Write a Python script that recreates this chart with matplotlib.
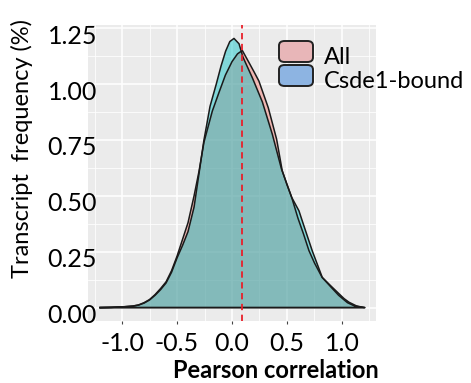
import matplotlib
matplotlib.use("Agg")
import matplotlib.pyplot as plt
from matplotlib.patches import FancyBboxPatch
from matplotlib.transforms import ScaledTranslation

# ---- data ----
all_x = [-1.20, -1.10, -1.00, -0.90, -0.85, -0.80, -0.75, -0.70, -0.65, -0.60, -0.55, -0.50,
         -0.45, -0.40, -0.345, -0.30, -0.255, -0.179, -0.12, -0.06, 0.00, 0.05, 0.094, 0.15,
         0.20, 0.245, 0.29, 0.33, 0.37, 0.406, 0.457, 0.50, 0.543, 0.60, 0.65, 0.70, 0.75,
         0.82, 0.90, 0.97, 1.05, 1.12, 1.21]
all_y = [0.000, 0.001, 0.003, 0.007, 0.012, 0.022, 0.036, 0.058, 0.085, 0.115, 0.165, 0.230,
         0.305, 0.380, 0.500, 0.610, 0.740, 0.879, 0.960, 1.040, 1.100, 1.135, 1.150, 1.100,
         1.055, 1.013, 0.950, 0.894, 0.820, 0.753, 0.612, 0.550, 0.493, 0.400, 0.330, 0.255,
         0.200, 0.135, 0.092, 0.055, 0.022, 0.006, 0.000]

csde_x = [-1.20, -1.10, -1.00, -0.90, -0.85, -0.80, -0.75, -0.70, -0.65, -0.60, -0.55, -0.50,
          -0.45, -0.40, -0.345, -0.30, -0.255, -0.20, -0.143, -0.10, -0.058, -0.02, 0.018,
          0.064, 0.10, 0.185, 0.276, 0.367, 0.45, 0.543, 0.609, 0.639, 0.73, 0.821, 0.897,
          0.973, 1.02, 1.064, 1.13, 1.20]
csde_y = [0.000, 0.001, 0.003, 0.007, 0.011, 0.020, 0.034, 0.055, 0.080, 0.110, 0.158, 0.222,
          0.278, 0.340, 0.450, 0.600, 0.750, 0.900, 1.000, 1.080, 1.147, 1.190, 1.204,
          1.180, 1.120, 1.028, 0.920, 0.775, 0.620, 0.493, 0.433, 0.388, 0.254, 0.135, 0.098,
          0.062, 0.040, 0.024, 0.008, 0.000]

median_line = 0.09
series_labels = ["All", "Csde1-bound"]
xticks = [-1.0, -0.5, 0.0, 0.5, 1.0]
xtick_labels = ["-1.0", "-0.5", "0.0", "0.5", "1.0"]
yticks = [0.00, 0.25, 0.50, 0.75, 1.00, 1.25]
ytick_labels = ["0.00", "0.25", "0.50", "0.75", "1.00", "1.25"]

# ---- style ----
plt.rcParams['font.family'] = ['Lato', 'DejaVu Sans']
W, H = 471, 383
fig = plt.figure(figsize=(W / 100, H / 100), dpi=100)
ax = fig.add_axes([88 / W, (H - 321) / H, (376 - 88) / W, (321 - 25) / H])
ax.set_facecolor('#EBEBEB')
for s in ax.spines.values():
    s.set_visible(False)

ax.set_xlim(-1.31, 1.31)
ax.set_ylim(-0.06, 1.264)

ax.set_xticks(xticks)
ax.set_xticklabels(xtick_labels, fontsize=18)
ax.set_xticks([-1.25, -0.75, -0.25, 0.25, 0.75, 1.25], minor=True)
ax.set_yticks(yticks)
ax.set_yticklabels(ytick_labels, fontsize=18)
ax.set_yticks([0.125, 0.375, 0.625, 0.875, 1.125], minor=True)
ax.grid(True, which='major', color='white', linewidth=1.1)
ax.grid(True, which='minor', color='white', linewidth=0.55)
ax.set_axisbelow(True)
ax.tick_params(axis='x', which='major', length=2.5, width=0.8, color='#444444', pad=5.5)
ax.tick_params(axis='x', which='minor', length=0)
ax.tick_params(axis='y', which='both', length=0, pad=-6.5)
for lab in ax.get_yticklabels():
    lab.set_transform(lab.get_transform() + ScaledTranslation(0, -6 / 100, fig.dpi_scale_trans))

fill_colors = ['#F8766D', '#00BFC4']
for xs, ys, c in [(all_x, all_y, fill_colors[0]), (csde_x, csde_y, fill_colors[1])]:
    ax.fill(xs, ys, facecolor=c, alpha=0.45, edgecolor='none')
    ax.plot(xs + [xs[0]], ys + [ys[0]], color='#1a1a1a', linewidth=1.1,
            solid_joinstyle='round')

ax.axvline(median_line, color='#E8202A', linestyle=(0, (3.5, 2.5)), linewidth=1.3)

# legend (drawn manually)
key_colors = ['#E8B6B8', '#8DB4E2']
key_tops = [41, 65]
for lab, kc, top in zip(series_labels, key_colors, key_tops):
    box = FancyBboxPatch((279 / W, (H - top - 21) / H), 34 / W, 21 / H,
                         boxstyle="round,pad=0,rounding_size=0.012",
                         transform=fig.transFigure, facecolor=kc,
                         edgecolor='#222222', linewidth=1.4, clip_on=False)
    fig.add_artist(box)
    fig.text(324 / W, (H - top - 17) / H, lab, fontsize=17, ha='left', va='center')

fig.text(22 / W, (H - 148) / H, "Transcript  frequency (%)", rotation=90,
         fontsize=17, ha='center', va='center')
fig.text(276 / W, (H - 370) / H, "Pearson correlation", fontsize=17,
         fontweight='bold', ha='center', va='center')

fig.savefig('out.png', dpi=100)
